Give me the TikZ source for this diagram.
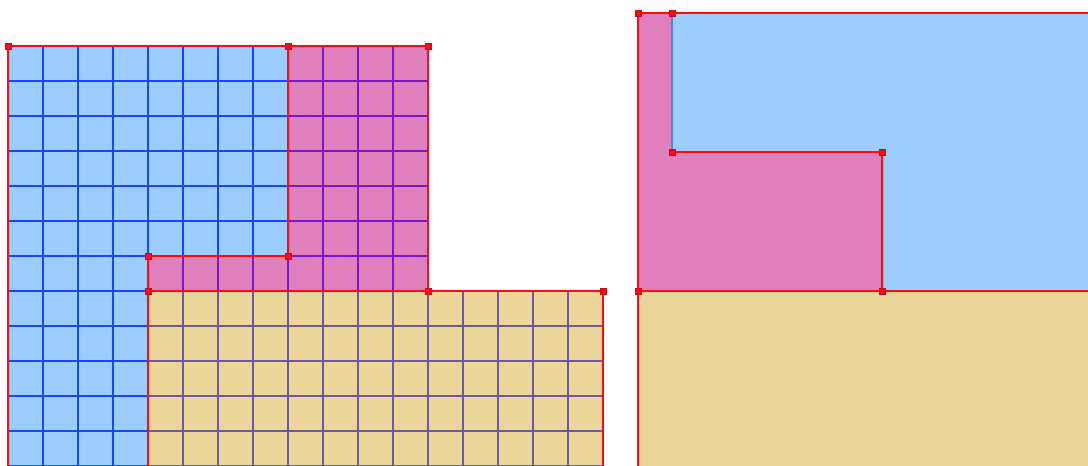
\documentclass[tikz,border=0pt]{standalone}
\usepackage{tikz}

\definecolor{blueFill}{HTML}{9DCDFF}
\definecolor{pinkFill}{HTML}{DF80BD}
\definecolor{tanFill}{HTML}{ECD598}
\definecolor{blueMesh}{HTML}{1A44FF}
\definecolor{pinkMesh}{HTML}{7A18C6}
\definecolor{tanMesh}{HTML}{6E56A6}
\definecolor{edgeRed}{HTML}{FF0A14}
\definecolor{seamBlue}{HTML}{3A8CF0}

\begin{document}
\begin{tikzpicture}[
      x=1pt, y=-1pt,
      mesh/.style={line width=1.9pt},
      edge/.style={edgeRed,line width=2.7pt,line cap=rect},
      seam/.style={seamBlue,line width=2pt},
      vtx/.style={fill=edgeRed,draw=edgeRed!80!black,line width=0.3pt,minimum size=6pt,inner sep=0pt,rectangle}
    ]
    \useasboundingbox (0,0) rectangle (1088,466);
    % Fill the regions of the meshed domain.
    \fill[blueFill] (8,46) -- (288,46) -- (288,256) -- (148,256) -- (148,466) -- (8,466) -- cycle;
    \fill[pinkFill] (288,46) -- (428,46) -- (428,291) -- (148,291) -- (148,256) -- (288,256) -- cycle;
    \fill[tanFill] (148,291) -- (603,291) -- (603,466) -- (148,466) -- cycle;
    % Draw the mesh lines, one region at a time.
    \begin{scope}
      \clip (8,46) -- (288,46) -- (288,256) -- (148,256) -- (148,466) -- (8,466) -- cycle;
      \foreach \x in {43,78,...,288} \draw[mesh,blueMesh] (\x,46) -- (\x,466);
      \foreach \y in {81,116,...,466} \draw[mesh,blueMesh] (8,\y) -- (288,\y);
    \end{scope}
    \begin{scope}
      \clip (288,46) -- (428,46) -- (428,291) -- (148,291) -- (148,256) -- (288,256) -- cycle;
      \foreach \x in {183,218,...,428} \draw[mesh,pinkMesh] (\x,46) -- (\x,291);
      \foreach \y in {81,116,...,291} \draw[mesh,pinkMesh] (148,\y) -- (428,\y);
    \end{scope}
    \begin{scope}
      \clip (148,291) -- (603,291) -- (603,466) -- (148,466) -- cycle;
      \foreach \x in {183,218,...,603} \draw[mesh,tanMesh] (\x,291) -- (\x,466);
      \foreach \y in {326,361,...,466} \draw[mesh,tanMesh] (148,\y) -- (603,\y);
    \end{scope}
    % Draw the region boundaries.
    \draw[edge] (8,466) -- (8,46) -- (428,46) -- (428,291) -- (603,291) -- (603,466);
    \draw[edge] (288,46) -- (288,256) -- (148,256) -- (148,466);
    \draw[edge] (148,291) -- (428,291);
    % Mark the corner vertices.
    \foreach \p/\q in {8/46,288/46,428/46,148/256,288/256,148/291,428/291,603/291}
      \node[vtx] at (\p,\q) {};

    % Draw the coarse domain.
    \fill[pinkFill] (638,13) -- (672,13) -- (672,152) -- (882,152) -- (882,291) -- (638,291) -- cycle;
    \fill[blueFill] (672,13) -- (1088,13) -- (1088,291) -- (882,291) -- (882,152) -- (672,152) -- cycle;
    \fill[tanFill] (638,291) -- (1088,291) -- (1088,466) -- (638,466) -- cycle;
    \draw[seam] (672,13) -- (672,152);
    \draw[edge] (638,466) -- (638,13) -- (1088,13);
    \draw[edge] (672,152) -- (882,152) -- (882,291);
    \draw[edge] (638,291) -- (1088,291);
    \foreach \p/\q in {638/13,672/13,672/152,882/152,638/291,882/291}
      \node[vtx] at (\p,\q) {};
\end{tikzpicture}
\end{document}
